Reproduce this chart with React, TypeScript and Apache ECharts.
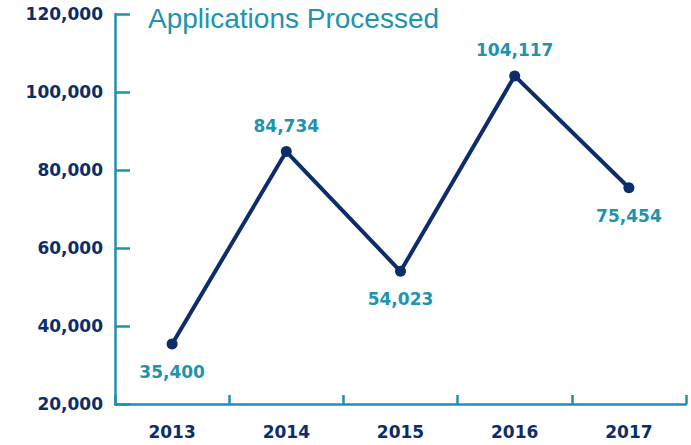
import React, { useEffect, useRef } from "react";
import * as echarts from "echarts";

const years = ["2013", "2014", "2015", "2016", "2017"];
const applications = [35400, 84734, 54023, 104117, 75454];
const labelPositions = ["bottom", "top", "bottom", "top", "bottom"];
const titleText = "Applications Processed";

const TEAL = "#1f90b0";
const LABEL_TEAL = "#2193ae";
const NAVY = "#0c2d6a";

export default function App() {
  const ref = useRef<HTMLDivElement>(null);
  useEffect(() => {
    if (!ref.current) return;
    const chart = echarts.init(ref.current, null, { renderer: "svg" });
    const fmt = (v: number) => v.toLocaleString("en-US");
    chart.setOption({
      animation: false,
      backgroundColor: "#ffffff",
      grid: { left: 115, right: 5, top: 14, bottom: 41, containLabel: false },
      graphic: [
        {
          type: "text",
          left: 148,
          top: 4,
          style: {
            text: titleText,
            fill: LABEL_TEAL,
            font: '28px "Liberation Sans", Arial, sans-serif',
          },
        },
      ],
      xAxis: {
        type: "category",
        data: years,
        boundaryGap: true,
        axisLine: { show: true, lineStyle: { color: TEAL, width: 2.5 } },
        axisTick: { show: true, inside: true, length: 9, lineStyle: { color: TEAL, width: 2.5 } },
        axisLabel: {
          color: NAVY,
          fontFamily: "DejaVu Sans",
          fontWeight: "bold",
          fontSize: 17,
          margin: 19,
        },
        splitLine: { show: false },
      },
      yAxis: {
        type: "value",
        min: 20000,
        max: 120000,
        interval: 20000,
        axisLine: { show: true, lineStyle: { color: TEAL, width: 2.5 } },
        axisTick: { show: true, inside: true, length: 15, lineStyle: { color: TEAL, width: 2.5 } },
        axisLabel: {
          color: NAVY,
          fontFamily: "DejaVu Sans",
          fontWeight: "bold",
          fontSize: 17,
          margin: 12,
          formatter: (v: number) => fmt(v),
        },
        splitLine: { show: false },
      },
      series: [
        {
          type: "line",
          data: applications.map((v, i) => ({
            value: v,
            label: {
              position: labelPositions[i],
              distance: labelPositions[i] === "top" ? 12 : 14,
            },
          })),
          symbol: "circle",
          symbolSize: 11,
          lineStyle: { color: NAVY, width: 4 },
          itemStyle: { color: NAVY },
          label: {
            show: true,
            color: LABEL_TEAL,
            fontFamily: "DejaVu Sans",
            fontWeight: "bold",
            fontSize: 17,
            formatter: (p: any) => fmt(p.value),
          },
        },
      ],
    });
    return () => chart.dispose();
  }, []);
  return <div ref={ref} style={{ width: 691, height: 445, position: "absolute", left: 0, top: 0 }} />;
}
